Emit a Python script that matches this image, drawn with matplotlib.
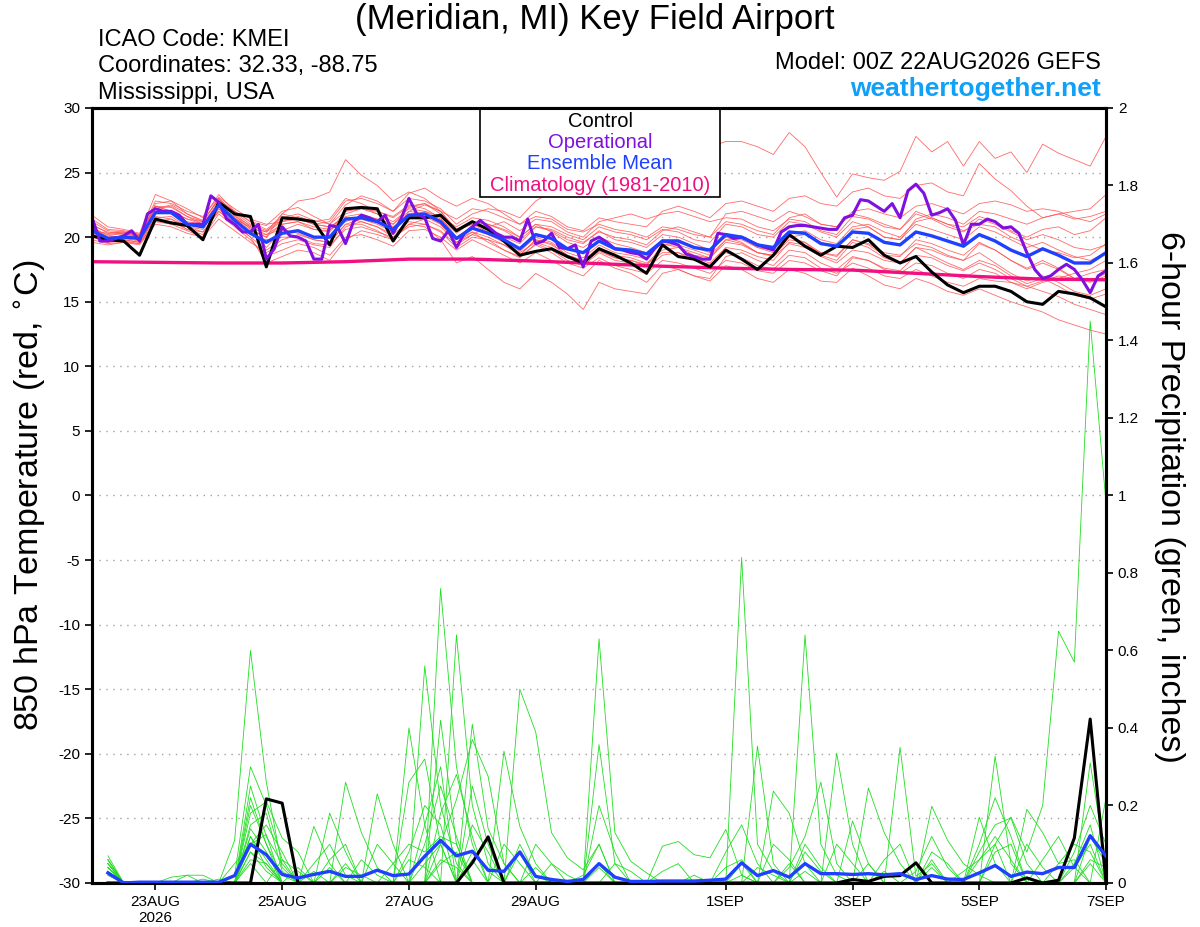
import numpy as np
import matplotlib
matplotlib.use("Agg")
import matplotlib.pyplot as plt
from matplotlib.patches import Rectangle

plt.rcParams['font.family'] = ['Liberation Sans', 'DejaVu Sans']
plt.rcParams['axes.unicode_minus'] = False

# ---- data (850 hPa temperature, deg C, 6-hourly from 00Z 22AUG) ----
control_t = [20.1, 19.8, 19.7, 18.6, 21.4, 21.1, 20.9, 19.8, 22.7, 21.8, 21.6, 17.7,
             21.5, 21.4, 21.2, 19.4, 22.2, 22.3, 22.2, 19.7, 21.5, 21.5, 21.7, 20.5,
             21.2, 20.6, 19.7, 18.6, 18.9, 19.1, 18.5, 18.0, 19.1, 18.6, 18.0, 17.2,
             19.4, 18.5, 18.3, 17.7, 19.0, 18.3, 17.5, 18.6, 20.2, 19.3, 18.6, 19.3,
             19.2, 19.8, 18.6, 18.0, 18.5, 17.3, 16.3, 15.7, 16.2, 16.2, 15.8, 15.0,
             14.8, 15.8, 15.6, 15.3, 14.6]

mean_t = [20.5, 19.9, 20.0, 19.9, 21.9, 21.9, 21.0, 20.8, 22.5, 21.3, 20.3, 19.6,
          20.3, 20.5, 20.0, 20.0, 21.4, 21.5, 21.2, 20.6, 21.7, 21.8, 21.2, 19.9,
          20.7, 20.3, 19.8, 19.1, 20.2, 19.9, 19.1, 18.8, 19.7, 19.1, 19.0, 18.7,
          19.7, 19.7, 19.2, 19.0, 20.2, 20.0, 19.4, 19.2, 20.4, 20.3, 19.5, 19.3,
          20.4, 20.3, 19.6, 19.4, 20.4, 20.1, 19.7, 19.3, 20.2, 19.7, 19.0, 18.5,
          19.1, 18.6, 18.0, 18.0, 18.8]

# operational run is 3-hourly
oper_t = [21.5, 19.7, 19.7, 19.9, 20.1, 20.5, 19.7, 21.8, 22.2, 22.0, 22.0, 21.7,
          21.0, 21.0, 21.0, 23.2, 22.7, 21.4, 21.0, 20.4, 20.4, 21.0, 18.3, 19.1,
          20.8, 20.1, 20.0, 19.7, 18.3, 18.3, 20.9, 20.8, 19.5,
          21.2, 21.7, 21.5, 21.2, 21.7, 20.3, 21.4, 23.0, 21.8, 21.5, 19.9, 19.7,
          20.5, 19.2, 20.3, 20.8, 21.3, 20.8, 20.3, 20.0, 20.0, 19.7, 21.4, 19.5,
          19.7, 20.3, 19.2, 19.1, 19.4, 17.7, 19.7, 20.0,
          19.6, 19.1, 19.0, 18.8, 18.7, 18.3, 19.1, 19.7, 19.6, 19.4, 18.7, 18.5,
          18.3, 18.3, 20.3, 20.2, 19.9, 20.0, 19.7, 19.4, 19.2, 19.0, 20.4, 20.8,
          20.9, 20.9, 20.8, 20.7, 20.6, 20.6, 21.5, 21.7,
          22.9, 22.8, 22.4, 22.0, 22.6, 21.5, 23.6, 24.1, 23.4, 21.7, 21.9, 22.2,
          21.3, 19.4, 21.0, 21.0, 21.4, 21.2, 20.7, 20.8, 20.3, 18.8, 17.5, 16.8,
          17.0, 17.5, 17.9, 17.5, 16.7, 15.7, 17.0, 17.4]

# daily climatology (1981-2010)
clim_t = [18.1, 18.05, 18.0, 18.0, 18.1, 18.3, 18.3, 18.15, 17.95, 17.75, 17.6,
          17.5, 17.45, 17.2, 16.95, 16.75, 16.7]

members_t = [
    [21.0, 20.3, 20.4, 20.2, 22.4, 22.3, 21.6, 21.2, 23.0, 21.9, 21.0, 20.5, 21.3, 21.5, 21.0, 21.2,
     22.8, 23.0, 22.6, 22.0, 23.0, 22.8, 22.2, 21.0, 21.8, 22.2, 22.0, 21.5, 22.8, 23.5, 24.5, 25.0,
     26.0, 26.5, 26.2, 25.8, 27.0, 27.5, 27.2, 27.0, 27.4, 27.4, 27.0, 26.4, 28.1, 27.0, 25.0, 23.1,
     24.9, 24.6, 24.4, 25.1, 27.8, 26.6, 27.4, 25.5, 27.4, 26.1, 26.6, 25.0, 27.2, 26.5, 26.0, 25.5, 27.8],
    [20.8, 20.1, 20.3, 20.0, 22.6, 22.8, 21.8, 21.3, 22.9, 22.0, 21.2, 20.9, 22.0, 22.3, 21.6, 21.0,
     22.5, 23.2, 22.8, 22.0, 23.4, 23.8, 23.0, 22.4, 23.0, 22.6, 21.8, 21.0, 22.0, 21.6, 20.8, 20.5,
     21.5, 21.2, 21.0, 20.8, 22.0, 22.4, 22.0, 21.5, 22.6, 22.8, 22.4, 22.0, 23.0, 23.2, 22.6, 22.4,
     23.5, 23.8, 23.2, 23.0, 24.0, 24.2, 23.5, 23.2, 25.7, 24.5, 23.6, 22.4, 21.5, 21.8, 22.0, 22.2, 23.3],
    [20.0, 19.6, 19.7, 19.5, 21.2, 21.0, 20.5, 20.0, 21.8, 20.8, 19.8, 18.5, 19.0, 19.5, 19.2, 18.6,
     20.0, 20.2, 19.8, 19.3, 20.5, 20.6, 20.0, 19.0, 19.8, 19.2, 18.6, 18.0, 18.8, 18.2, 17.5, 17.0,
     18.2, 17.6, 17.2, 16.5, 17.8, 17.5, 17.0, 16.6, 17.8, 17.5, 16.8, 16.5, 17.5, 17.2, 16.6, 16.5,
     17.6, 17.0, 16.3, 16.0, 16.8, 16.4, 15.8, 15.5, 16.0, 15.5, 15.0, 14.6, 14.2, 13.6, 13.2, 12.8, 12.5],
    [20.2, 19.7, 19.8, 19.6, 21.6, 21.4, 20.6, 20.2, 22.2, 21.0, 20.0, 18.0, 18.5, 19.0, 18.8, 18.2,
     19.8, 20.5, 20.2, 19.8, 21.0, 20.8, 19.8, 18.0, 18.5, 17.5, 16.5, 16.0, 17.2, 16.5, 15.6, 14.4,
     16.5, 16.0, 15.8, 15.6, 17.2, 17.5, 17.0, 16.8, 18.5, 18.8, 18.2, 17.8, 19.0, 18.8, 18.0, 17.5,
     18.5, 18.2, 17.5, 17.2, 18.0, 17.8, 17.2, 16.8, 17.5, 17.2, 16.5, 16.0, 16.5, 16.8, 17.2, 17.5, 18.2],
    [20.6, 20.2, 20.3, 20.1, 22.4, 22.0, 21.2, 21.0, 22.8, 21.7, 20.6, 20.0, 21.8, 22.8, 23.0, 23.5,
     26.0, 24.8, 24.0, 22.8, 23.5, 23.0, 22.0, 20.5, 21.0, 20.6, 20.0, 19.5, 20.8, 20.5, 19.8, 19.5,
     20.5, 19.8, 19.6, 19.2, 20.2, 20.0, 19.5, 19.0, 20.0, 19.6, 18.8, 18.5, 19.5, 19.2, 18.5, 18.0,
     19.0, 18.8, 18.2, 18.0, 19.2, 19.0, 18.5, 18.2, 19.5, 19.0, 18.2, 17.5, 18.0, 17.5, 16.8, 16.5, 17.0],
    [21.7, 20.8, 20.6, 20.3, 23.3, 22.8, 22.2, 21.5, 23.3, 22.0, 21.2, 20.6, 21.5, 21.8, 21.3, 21.0,
     22.0, 22.4, 21.8, 21.0, 22.3, 22.6, 21.8, 20.4, 21.2, 21.0, 20.5, 19.8, 20.8, 20.6, 20.0, 19.6,
     20.4, 20.0, 19.8, 19.4, 20.5, 20.8, 20.4, 20.0, 21.2, 21.0, 20.5, 20.2, 21.5, 21.8, 21.0, 20.8,
     21.8, 21.5, 21.0, 20.6, 22.0, 21.5, 21.0, 20.8, 21.6, 21.2, 20.5, 20.0, 20.6, 20.8, 20.2, 20.5, 21.5],
    [19.8, 19.5, 19.6, 19.4, 21.0, 20.8, 20.3, 20.0, 21.4, 20.5, 19.6, 18.8, 19.5, 19.8, 19.4, 19.2,
     20.8, 21.2, 20.8, 20.2, 21.2, 21.0, 20.4, 19.2, 20.0, 19.8, 19.0, 18.4, 19.5, 19.0, 18.2, 17.8,
     18.8, 18.2, 18.0, 17.6, 18.6, 18.8, 18.4, 18.0, 19.2, 19.0, 18.5, 18.2, 19.6, 19.4, 18.8, 18.5,
     19.8, 19.5, 18.8, 18.6, 19.5, 19.2, 18.6, 18.2, 18.8, 18.0, 17.2, 16.6, 17.0, 16.5, 15.8, 15.5, 16.0],
    [20.4, 20.0, 20.1, 19.8, 21.8, 22.0, 21.4, 21.0, 22.2, 21.4, 20.8, 20.2, 20.6, 20.3, 19.8, 19.6,
     21.0, 21.0, 20.5, 19.8, 21.5, 22.0, 21.6, 20.8, 21.5, 21.3, 20.8, 20.0, 21.0, 20.4, 19.6, 19.2,
     20.0, 19.5, 19.2, 18.8, 19.5, 19.2, 18.6, 18.4, 19.6, 19.4, 18.8, 18.6, 20.0, 20.2, 19.6, 19.2,
     20.6, 20.8, 20.0, 19.8, 21.0, 20.6, 20.2, 19.8, 20.8, 20.4, 19.8, 19.2, 19.6, 19.0, 18.5, 18.2, 18.8],
    [20.9, 20.4, 20.2, 20.0, 22.2, 22.5, 21.8, 21.2, 23.0, 21.8, 20.8, 19.2, 20.5, 21.0, 20.6, 20.4,
     21.8, 22.2, 22.0, 21.6, 22.5, 22.2, 21.5, 20.0, 20.8, 20.2, 19.6, 18.6, 19.8, 19.5, 18.6, 18.2,
     19.2, 18.6, 18.4, 18.0, 19.0, 19.2, 18.8, 18.4, 19.8, 19.8, 19.2, 19.0, 20.2, 20.5, 19.8, 19.5,
     20.8, 21.0, 20.4, 20.0, 21.2, 21.5, 21.0, 20.5, 21.0, 20.8, 20.0, 19.5, 19.0, 18.8, 18.4, 18.6, 19.5],
    [20.3, 19.8, 19.9, 19.7, 21.5, 21.6, 20.8, 20.6, 22.4, 21.0, 20.0, 19.0, 19.8, 20.2, 19.8, 19.6,
     21.0, 21.4, 21.0, 20.4, 22.0, 22.5, 22.0, 20.6, 21.0, 20.4, 19.8, 18.9, 20.0, 19.6, 18.8, 18.4,
     19.4, 18.8, 18.6, 18.3, 19.8, 19.8, 19.2, 18.8, 20.2, 20.0, 19.2, 18.8, 20.0, 19.6, 18.6, 18.2,
     19.6, 19.2, 18.4, 18.0, 19.2, 18.6, 18.0, 17.5, 18.2, 17.8, 17.0, 16.4, 16.8, 16.2, 15.5, 15.2, 15.6],
    [20.7, 20.0, 20.1, 20.0, 22.0, 21.8, 21.1, 20.9, 22.6, 21.5, 20.5, 20.0, 21.0, 21.2, 20.6, 20.5,
     22.0, 22.2, 21.8, 21.2, 22.2, 22.0, 21.4, 20.3, 21.2, 21.0, 20.6, 20.0, 21.0, 20.8, 20.2, 19.8,
     20.8, 20.4, 20.2, 19.8, 20.6, 20.4, 19.8, 19.6, 21.0, 20.8, 20.2, 20.0, 21.2, 21.0, 20.4, 20.0,
     21.2, 20.8, 20.0, 19.8, 21.4, 21.8, 21.5, 21.0, 22.0, 21.8, 21.4, 21.0, 21.5, 21.8, 21.4, 21.6, 22.0],
    [20.1, 19.6, 19.8, 19.6, 21.4, 21.2, 20.6, 20.4, 22.0, 21.0, 20.2, 19.8, 20.0, 20.0, 19.5, 19.4,
     20.6, 20.8, 20.4, 20.0, 21.0, 21.4, 20.8, 19.6, 20.2, 19.8, 19.4, 18.8, 19.6, 19.2, 18.4, 18.0,
     18.9, 18.4, 18.2, 17.9, 18.8, 18.8, 18.2, 17.9, 18.8, 18.4, 17.8, 17.5, 18.6, 18.4, 17.6, 17.2,
     18.0, 17.6, 17.0, 16.8, 17.5, 17.0, 16.5, 16.2, 16.8, 16.6, 16.5, 16.2, 16.6, 17.0, 16.8, 17.2, 17.5],
    [21.2, 20.5, 20.4, 20.2, 22.8, 22.6, 22.0, 21.6, 23.1, 22.2, 21.4, 21.0, 21.2, 21.4, 21.0, 20.8,
     21.6, 21.8, 21.4, 20.8, 21.8, 21.6, 21.0, 19.6, 20.4, 20.0, 19.4, 18.6, 19.8, 19.4, 18.6, 18.2,
     19.0, 18.4, 18.2, 17.8, 19.4, 19.4, 19.0, 18.6, 19.8, 19.5, 18.8, 18.6, 19.8, 19.6, 18.8, 18.6,
     19.8, 19.4, 18.6, 18.5, 19.8, 19.5, 19.0, 18.6, 19.6, 19.0, 18.2, 17.6, 18.2, 17.6, 16.8, 16.6, 17.2],
    [20.5, 20.3, 20.4, 20.1, 22.2, 22.4, 21.6, 21.0, 22.6, 21.5, 20.7, 20.4, 21.8, 21.5, 21.0, 20.8,
     21.5, 21.2, 20.8, 20.0, 20.8, 21.0, 20.5, 19.4, 20.2, 20.8, 21.2, 20.5, 21.4, 21.2, 20.4, 20.0,
     21.2, 21.5, 21.8, 21.4, 21.8, 22.0, 21.6, 21.2, 21.5, 21.4, 20.8, 20.5, 21.4, 21.2, 20.5, 20.2,
     21.6, 21.4, 20.8, 20.6, 21.8, 21.4, 20.8, 20.4, 21.4, 21.0, 20.4, 19.8, 20.2, 19.8, 19.2, 19.0, 19.4],
    [19.6, 19.4, 19.6, 19.5, 21.2, 21.4, 20.8, 20.4, 22.0, 21.2, 20.4, 20.2, 21.0, 21.2, 20.8, 20.6,
     21.2, 21.6, 21.4, 21.0, 22.0, 21.8, 21.0, 19.8, 20.4, 19.6, 19.0, 18.5, 19.4, 18.8, 18.0, 17.6,
     18.4, 17.8, 17.5, 17.2, 18.2, 18.0, 17.6, 17.2, 18.2, 18.0, 17.4, 17.2, 18.2, 18.0, 17.4, 17.0,
     18.4, 18.2, 17.6, 17.4, 18.6, 18.4, 17.8, 17.4, 18.0, 17.5, 16.8, 16.2, 15.8, 15.4, 14.8, 14.4, 14.0],
    [21.4, 20.6, 20.5, 20.2, 22.4, 22.0, 21.4, 21.2, 22.4, 21.6, 20.9, 20.4, 21.2, 21.6, 21.2, 21.4,
     23.0, 22.6, 22.0, 21.5, 22.4, 22.6, 22.0, 21.4, 22.2, 22.0, 21.5, 21.0, 21.6, 21.4, 20.6, 20.4,
     21.0, 20.6, 20.4, 20.0, 20.8, 20.6, 20.2, 20.0, 21.8, 22.0, 21.6, 21.2, 22.0, 21.6, 21.0, 20.8,
     22.0, 22.2, 21.8, 21.5, 22.4, 22.6, 22.2, 21.8, 22.6, 22.8, 22.5, 22.0, 22.2, 22.0, 21.5, 21.2, 21.8],
]

# ---- 6-hour precipitation (inches), steps of 6 h, first step ends 06Z 22AUG ----
control_p = {11: 0.217, 12: 0.206, 24: 0.052, 25: 0.119, 48: 0.009, 49: 0.004,
             50: 0.017, 51: 0.019, 52: 0.052, 59: 0.013, 61: 0.007, 62: 0.116, 63: 0.423}

mean_p = [0.026, 0.0, 0.002, 0.002, 0.002, 0.002, 0.002, 0.002, 0.019, 0.10, 0.073, 0.022,
          0.013, 0.022, 0.03, 0.017, 0.017, 0.033, 0.019, 0.023, 0.069, 0.11, 0.07, 0.082,
          0.033, 0.03, 0.08, 0.017, 0.009, 0.004, 0.009, 0.05, 0.015, 0.004, 0.004, 0.005,
          0.005, 0.005, 0.007, 0.01, 0.052, 0.019, 0.032, 0.015, 0.05, 0.024, 0.024, 0.022,
          0.024, 0.021, 0.024, 0.009, 0.019, 0.01, 0.009, 0.026, 0.045, 0.017, 0.028, 0.024,
          0.04, 0.04, 0.122, 0.069]

# members: {step: amount}, all other steps are 0
members_p = [
    {1: 0.05, 10: 0.08, 11: 0.05, 22: 0.76, 23: 0.3, 24: 0.1, 32: 0.05, 41: 0.02, 45: 0.03,
     57: 0.1, 58: 0.17, 59: 0.08, 60: 0.2, 61: 0.65, 62: 0.57, 63: 1.45, 64: 0.98},
    {1: 0.06, 9: 0.11, 10: 0.6, 11: 0.26, 12: 0.04, 16: 0.05, 21: 0.56, 22: 0.2, 23: 0.05,
     27: 0.1, 28: 0.02, 41: 0.84, 42: 0.1, 43: 0.03, 50: 0.03, 53: 0.06, 62: 0.04, 63: 0.1},
    {1: 0.03, 10: 0.22, 11: 0.1, 12: 0.02, 14: 0.146, 15: 0.05, 20: 0.4, 21: 0.15, 23: 0.64,
     24: 0.2, 25: 0.05, 45: 0.64, 46: 0.1, 47: 0.02, 56: 0.17, 57: 0.05, 63: 0.31, 64: 0.05},
    {1: 0.07, 10: 0.18, 11: 0.21, 12: 0.116, 13: 0.08, 16: 0.26, 17: 0.13, 18: 0.04, 22: 0.42,
     23: 0.1, 27: 0.5, 28: 0.39, 29: 0.13, 30: 0.065, 31: 0.034, 32: 0.1, 42: 0.353, 43: 0.05,
     51: 0.35, 52: 0.017, 53: 0.05, 64: 0.22},
    {1: 0.02, 9: 0.05, 10: 0.1, 11: 0.125, 15: 0.18, 16: 0.08, 18: 0.23, 19: 0.1, 24: 0.41,
     25: 0.14, 26: 0.05, 32: 0.63, 33: 0.13, 34: 0.056, 35: 0.026, 47: 0.335, 48: 0.1,
     57: 0.327, 58: 0.05, 63: 0.05},
    {1: 0.04, 6: 0.02, 7: 0.02, 10: 0.05, 12: 0.06, 20: 0.26, 21: 0.32, 22: 0.1, 26: 0.34,
     27: 0.146, 28: 0.05, 32: 0.357, 33: 0.05, 36: 0.095, 37: 0.107, 38: 0.073, 39: 0.065,
     40: 0.138, 41: 0.02, 49: 0.245, 50: 0.13, 51: 0.05, 59: 0.19, 60: 0.13, 61: 0.05, 62: 0.06},
    {1: 0.05, 5: 0.015, 6: 0.02, 10: 0.14, 11: 0.08, 14: 0.05, 15: 0.1, 16: 0.02, 22: 0.1,
     23: 0.215, 24: 0.37, 25: 0.275, 26: 0.05, 43: 0.237, 44: 0.18, 45: 0.05, 53: 0.198,
     54: 0.11, 55: 0.05, 56: 0.02, 62: 0.05, 63: 0.15},
    {1: 0.03, 10: 0.12, 11: 0.06, 13: 0.04, 17: 0.06, 18: 0.02, 21: 0.15, 22: 0.3, 24: 0.25,
     25: 0.1, 29: 0.05, 30: 0.02, 44: 0.04, 45: 0.12, 46: 0.26, 47: 0.05, 56: 0.08, 57: 0.15,
     58: 0.168, 59: 0.05},
    {1: 0.04, 10: 0.25, 11: 0.12, 12: 0.05, 19: 0.05, 20: 0.1, 21: 0.08, 22: 0.12, 23: 0.1,
     28: 0.1, 29: 0.05, 33: 0.05, 34: 0.03, 40: 0.08, 41: 0.15, 42: 0.05, 48: 0.16, 49: 0.05,
     56: 0.1, 57: 0.22, 58: 0.12, 63: 0.12, 64: 0.05},
    {1: 0.06, 10: 0.15, 11: 0.18, 12: 0.03, 15: 0.06, 16: 0.1, 22: 0.18, 23: 0.28, 24: 0.12,
     32: 0.2, 33: 0.08, 43: 0.1, 44: 0.06, 52: 0.03, 53: 0.12, 54: 0.04, 62: 0.08, 63: 0.2, 64: 0.1},
    {1: 0.02, 10: 0.08, 11: 0.03, 18: 0.1, 19: 0.05, 21: 0.1, 22: 0.25, 23: 0.12, 27: 0.08,
     36: 0.03, 37: 0.05, 45: 0.08, 46: 0.03, 50: 0.06, 51: 0.1, 59: 0.1, 60: 0.04},
    {1: 0.05, 9: 0.02, 10: 0.3, 11: 0.2, 12: 0.06, 13: 0.03, 20: 0.06, 21: 0.04, 24: 0.08,
     25: 0.03, 31: 0.02, 32: 0.1, 40: 0.04, 41: 0.06, 44: 0.05, 55: 0.03, 56: 0.06, 57: 0.1,
     61: 0.05, 62: 0.1, 63: 0.08},
    {1: 0.03, 7: 0.01, 10: 0.06, 11: 0.05, 14: 0.03, 22: 0.05, 23: 0.08, 26: 0.1, 27: 0.05,
     38: 0.02, 47: 0.1, 48: 0.05, 53: 0.08, 54: 0.05},
    {1: 0.04, 10: 0.2, 11: 0.1, 16: 0.04, 17: 0.02, 20: 0.08, 21: 0.2, 22: 0.15, 24: 0.06,
     28: 0.04, 42: 0.04, 43: 0.02, 57: 0.08, 58: 0.1, 63: 0.06, 64: 0.04},
    {1: 0.05, 10: 0.1, 11: 0.15, 12: 0.08, 22: 0.06, 23: 0.04, 32: 0.04, 45: 0.1, 46: 0.04,
     49: 0.05, 60: 0.06, 61: 0.12, 62: 0.04},
    {1: 0.06, 8: 0.01, 10: 0.12, 11: 0.04, 15: 0.04, 21: 0.05, 22: 0.1, 24: 0.15, 25: 0.08,
     41: 0.05, 53: 0.04, 56: 0.06, 57: 0.12, 58: 0.06},
]

tick_hours = [24, 72, 120, 168, 240, 288, 336, 384]
tick_labels = ['23AUG\n2026', '25AUG', '27AUG', '29AUG', '1SEP', '3SEP', '5SEP', '7SEP']

n_steps = 64


def sparse_to_series(d):
    vals = np.zeros(n_steps)
    for k, v in d.items():
        vals[k - 1] = v
    return vals


hours_t = np.arange(len(mean_t)) * 6
hours_op = np.arange(len(oper_t)) * 3
hours_clim = np.arange(len(clim_t)) * 24
hours_p = np.arange(1, n_steps + 1) * 6

fig = plt.figure(figsize=(12, 9.27), dpi=100)
ax = fig.add_axes([0.0767, 0.0475, 0.845, 0.836])
ax.set_xlim(0, 384)
ax.set_ylim(-30, 30)

# temperature plume
for m in members_t:
    ax.plot(np.arange(len(m)) * 6, m, color='#ff5050', lw=0.6, alpha=0.85, zorder=2)
ax.plot(hours_clim, clim_t, color='#f0107f', lw=2.4, zorder=3)
ax.plot(hours_t, control_t, color='black', lw=2.2, zorder=4)
ax.plot(hours_op, oper_t, color='#7f10e0', lw=2.2, zorder=5)
ax.plot(hours_t, mean_t, color='#2040ff', lw=2.4, zorder=6)

ax.set_yticks(range(-30, 31, 5))
ax.grid(axis='y', color='#a0a0a0', linestyle=(0, (1, 4)), lw=1)
ax.set_xticks(tick_hours)
ax.set_xticklabels(tick_labels)
ax.tick_params(axis='both', labelsize=11, length=5, width=1.2)

# precipitation on right axis
ax2 = ax.twinx()
ax2.set_ylim(0, 2)
for m in members_p:
    ax2.plot(hours_p, sparse_to_series(m), color='#22dd22', lw=0.6, zorder=2)
ax2.plot(hours_p, sparse_to_series(control_p), color='black', lw=2.2, zorder=4)
ax2.plot(hours_p, mean_p, color='#2040ff', lw=2.4, zorder=5)
p_ticks = np.arange(0, 2.01, 0.2)
ax2.set_yticks(p_ticks)
ax2.set_yticklabels([f"{v:g}" for v in p_ticks])
ax2.tick_params(axis='y', labelsize=11, length=5, width=1.2)

for a in (ax, ax2):
    for s in a.spines.values():
        s.set_linewidth(2.2)

# legend box
ax.add_patch(Rectangle((0.3826, 0.885), 0.2367, 0.115, transform=ax.transAxes,
                       facecolor='white', edgecolor='black', lw=1.2, zorder=20))
leg = [('Control', 'black', 0.983), ('Operational', '#7f10e0', 0.956),
       ('Ensemble Mean', '#2040ff', 0.929), ('Climatology (1981-2010)', '#f0107f', 0.900)]
for txt, col, yy in leg:
    ax.text(0.501, yy, txt, color=col, fontsize=14.5, ha='center', va='center',
            transform=ax.transAxes, zorder=21)

# header
fig.text(0.496, 0.979, '(Meridian, MI) Key Field Airport', fontsize=25,
         ha='center', va='center')
fig.text(0.0817, 0.957, 'ICAO Code: KMEI', fontsize=17, va='center')
fig.text(0.0817, 0.929, 'Coordinates: 32.33, -88.75', fontsize=17, va='center')
fig.text(0.0817, 0.900, 'Mississippi, USA', fontsize=17, va='center')
fig.text(0.917, 0.932, 'Model: 00Z 22AUG2026 GEFS', fontsize=17, ha='right', va='center')
fig.text(0.917, 0.904, 'weathertogether.net', fontsize=19, ha='right', va='center',
         color='#10a0f8', fontweight='bold')

fig.text(0.026, 0.466, '850 hPa Temperature (red, $^{\\circ}$C)', fontsize=24.5,
         rotation=90, ha='center', va='center')
fig.text(0.975, 0.464, '6-hour Precipitation (green, inches)', fontsize=24.5,
         rotation=270, ha='center', va='center')

fig.savefig('out.png', dpi=100)
